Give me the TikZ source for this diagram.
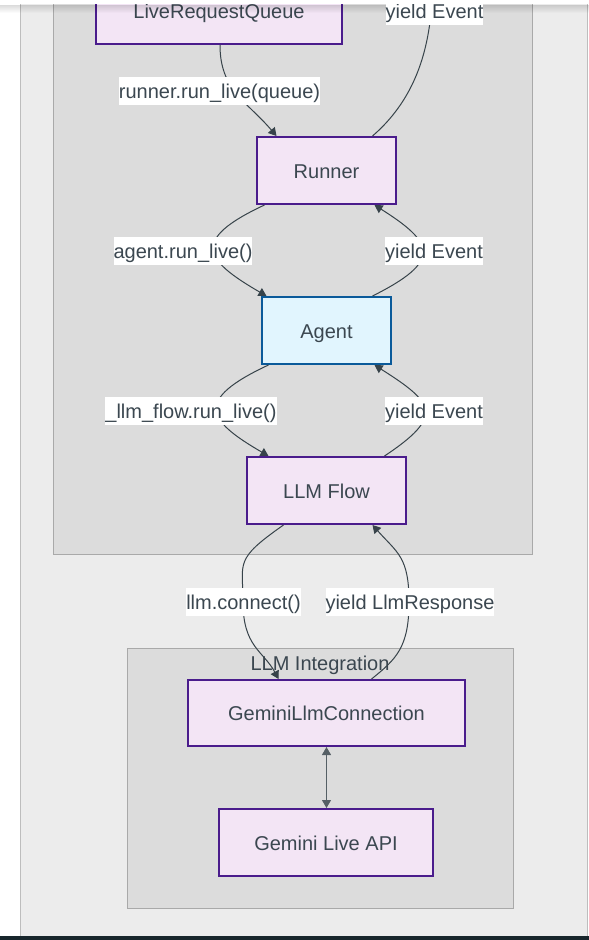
\documentclass[tikz,border=0pt]{standalone}
\usepackage{fontspec}
\setmainfont{Liberation Sans}
\usetikzlibrary{arrows.meta}
\definecolor{txt}{HTML}{3B4750}
\definecolor{edge}{HTML}{37434A}
\definecolor{outerbg}{HTML}{ECECEC}
\definecolor{outerbd}{HTML}{BDBDBD}
\definecolor{subbg}{HTML}{DCDCDC}
\definecolor{subbd}{HTML}{A9A9A9}
\definecolor{pfill}{HTML}{F3E5F5}
\definecolor{pbord}{HTML}{4A1C8C}
\definecolor{bfill}{HTML}{E1F5FE}
\definecolor{bbord}{HTML}{0A5A9A}
\definecolor{darkbar}{HTML}{18262C}
\tikzset{
  tfont/.style={font=\fontsize{20}{24}\selectfont, text=txt, text height=17pt, text depth=2pt},
  pnode/.style={tfont, draw=pbord, fill=pfill, line width=2pt, minimum height=67pt, inner sep=0pt},
  bnode/.style={pnode, draw=bbord, fill=bfill},
  elabel/.style={tfont, fill=white, inner sep=0pt, minimum height=28pt},
  conn/.style={draw=edge, line width=1pt},
  arr/.style={conn, -{Triangle[length=8pt,width=9pt]}},
}
\begin{document}
\begin{tikzpicture}[x=1pt,y=-1pt]
\useasboundingbox (0,0) rectangle (589,940);
\clip (0,0) rectangle (589,940);
\fill[white] (0,0) rectangle (589,940);
% containers
\node (outer) [draw=outerbd, fill=outerbg, line width=1.2pt, minimum width=567pt, minimum height=960pt, inner sep=0pt, anchor=north west] at (20,-24) {};
\node (sub1) [draw=subbd, fill=subbg, line width=1pt, minimum width=479pt, minimum height=580pt, inner sep=0pt, anchor=south west] at (53,555) {};
\node (sub2) [draw=subbd, fill=subbg, line width=1pt, minimum width=386pt, minimum height=260pt, inner sep=0pt, anchor=north west] at (127,648) {};
\node (sub2t) [tfont, inner sep=0pt] at (320,663) {LLM Integration};
% nodes
\node (lrq) [pnode, minimum width=246pt] at (219,10.5) {LiveRequestQueue};
\node (runner) [pnode, minimum width=139pt] at (326.5,170.5) {Runner};
\node (agent) [bnode, minimum width=129pt] at (326.5,330.5) {Agent};
\node (flow) [pnode, minimum width=159pt] at (326.5,490.5) {LLM Flow};
\node (glc) [pnode, minimum width=277pt, minimum height=66pt] at (326.5,713) {GeminiLlmConnection};
\node (api) [pnode, minimum width=214pt] at (326,842.5) {Gemini Live API};
% top exit coordinate
\coordinate (topout) at (433,-30);
% edges
\draw[arr] ([xshift=1pt]lrq.south) .. controls +(0,45) and +(-30,-35) .. ([xshift=-50pt]runner.north);
\draw[conn] ([xshift=46pt]runner.north) .. controls +(52,-45) and +(0,60) .. (topout);
\draw[arr] ([xshift=-62pt]runner.south) .. controls +(-75,35) and +(-62,-36) .. ([xshift=-60pt]agent.north);
\draw[arr] ([xshift=46pt]agent.north) .. controls +(70,-35) and +(60,38) .. ([xshift=48pt]runner.south);
\draw[arr] ([xshift=-58pt]agent.south) .. controls +(-75,35) and +(-62,-36) .. ([xshift=-58pt]flow.north);
\draw[arr] ([xshift=58pt]flow.north) .. controls +(60,-40) and +(60,38) .. ([xshift=48pt]agent.south);
\draw[arr] ([xshift=-43pt]flow.south) .. controls +(-50,35) and +(0,-40) .. (243,602) .. controls +(0,45) and +(-15,-28) .. ([xshift=-48pt]glc.north);
\draw[arr] ([xshift=45pt]glc.north) .. controls +(25,-20) and +(0,45) .. (409,602) .. controls +(0,-45) and +(25,28) .. ([xshift=46pt]flow.south);
\draw[conn, draw=edge!85, {Triangle[length=8pt,width=9pt]}-{Triangle[length=8pt,width=9pt]}] (glc.south) -- (glc.south |- api.north);
% labels
\node (l1) [elabel] at (219.5,91) {runner.run\_live(queue)};
\node (l3) [elabel] at (183,250.5) {agent.run\_live()};
\node (l4) [elabel] at (434,250.5) {yield Event};
\node (l5) [elabel] at (191,410.5) {\_llm\_flow.run\_live()};
\node (l6) [elabel] at (434,410.5) {yield Event};
\node (l7) [elabel] at (243.5,602) {llm.connect()};
\node (l8) [elabel] at (410,602) {yield LlmResponse};
% header shadow
\foreach \i in {0,...,7} {
  \fill[black, opacity={0.14*(1-\i/8)}] (0,5+\i) rectangle (589,6+\i);
}
\node (l2) [elabel] at (434.5,11) {yield Event};
\fill[white] (0,0) rectangle (589,4);
% bottom bar
\fill[darkbar] (0,936) rectangle (589,940);
\end{tikzpicture}
\end{document}
